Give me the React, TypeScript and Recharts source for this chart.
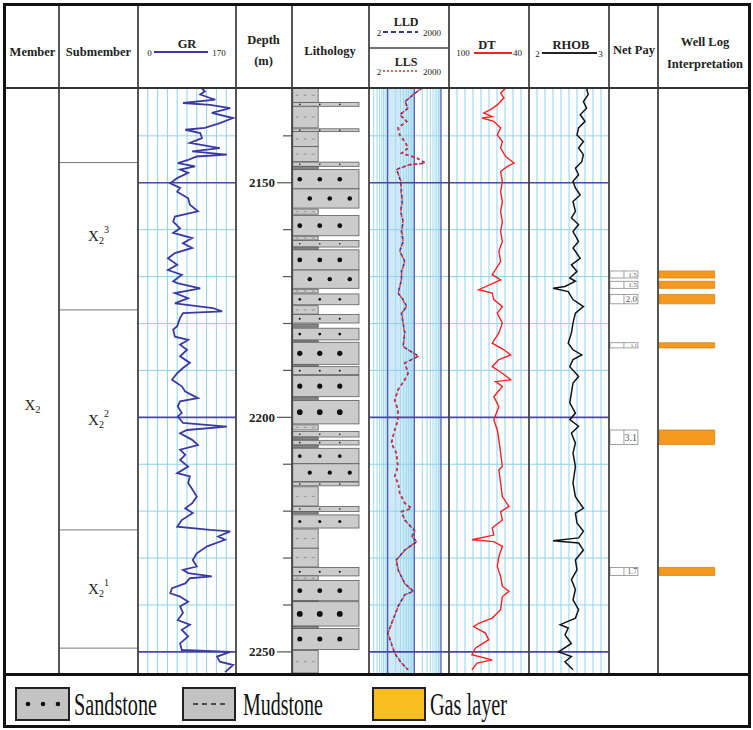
import React from "react";
import { LineChart, Line, XAxis, YAxis, ReferenceLine, ReferenceArea, Label } from "recharts";

// depth window of the log section (m)
const TOP_DEPTH = 2129.8;
const BASE_DEPTH = 2254.5;
const depthTicks = [2140, 2150, 2160, 2170, 2180, 2190, 2200, 2210, 2220, 2230, 2240, 2250];
const depthLabels = [2150, 2200, 2250];

// track grid values
const grTicks = [17, 34, 51, 68, 85, 102, 119, 136, 153];
const dtTicks = [94, 88, 82, 76, 70, 64, 58, 52, 46];
const rhobTicks = [2.1, 2.2, 2.3, 2.4, 2.5, 2.6, 2.7, 2.8, 2.9];
const resMinor = [3, 4, 5, 6, 7, 8, 9, 20, 30, 40, 50, 60, 70, 80, 90, 200, 300, 400, 500, 600, 700, 800, 900];
const resDecades = [10, 100, 1000];

// stratigraphy: boundaries (m) and submember superscripts
const stratBounds = [2145.7, 2177.1, 2224.0, 2249.2];
const submembers = ["3", "2", "1"];

// [depth, GR API]
const grLog: [number, number][] = [
  [2129.8, 110], [2130.5, 116], [2131.2, 108], [2132.3, 134], [2133.0, 78], [2133.4, 125], [2134.1, 160],
  [2135.1, 128], [2136.2, 165], [2137.3, 142], [2138.3, 116], [2138.7, 82], [2139.4, 108], [2140.5, 111],
  [2141.5, 90], [2142.6, 142], [2143.3, 94], [2144.0, 154], [2144.4, 102], [2145.1, 87], [2145.8, 69],
  [2146.5, 99], [2147.2, 73], [2147.9, 87], [2149.0, 68], [2150.1, 56], [2151.1, 73], [2151.9, 68],
  [2153.3, 87], [2154.7, 90], [2156.1, 104], [2157.2, 64], [2158.3, 61], [2159.7, 73], [2160.7, 61],
  [2161.8, 94], [2162.9, 78], [2163.9, 94], [2165.0, 64], [2166.1, 52], [2167.5, 68], [2168.6, 52],
  [2169.6, 76], [2171.0, 61], [2171.4, 68], [2172.5, 108], [2173.5, 64], [2174.6, 87], [2175.7, 64],
  [2176.7, 130], [2177.4, 146], [2177.8, 78], [2178.8, 73], [2180.6, 68], [2181.3, 61], [2182.8, 64],
  [2183.5, 87], [2184.5, 73], [2185.6, 85], [2187.0, 73], [2188.4, 90], [2189.5, 78], [2190.6, 68],
  [2192.0, 59], [2193.4, 76], [2194.5, 82], [2195.9, 104], [2196.6, 73], [2197.7, 69], [2199.1, 76],
  [2199.8, 69], [2201.2, 78], [2202.0, 154], [2202.7, 85], [2203.4, 73], [2204.8, 94], [2205.9, 104],
  [2206.9, 73], [2208.0, 82], [2209.1, 73], [2210.5, 87], [2211.9, 68], [2212.6, 90], [2214.0, 87],
  [2215.5, 95], [2216.9, 102], [2218.3, 94], [2219.4, 82], [2220.4, 95], [2221.9, 76], [2223.3, 68],
  [2224.0, 125], [2224.3, 160], [2225.4, 139], [2226.1, 151], [2227.5, 120], [2229.0, 102], [2230.4, 95],
  [2231.8, 102], [2232.5, 78], [2233.2, 87], [2233.9, 128], [2234.3, 90], [2235.4, 82], [2236.4, 59],
  [2237.5, 56], [2238.2, 73], [2239.3, 87], [2240.3, 73], [2241.7, 78], [2243.2, 69], [2244.2, 90],
  [2245.3, 76], [2246.7, 87], [2248.2, 73], [2249.6, 76], [2250.0, 160], [2251.0, 137], [2252.1, 142],
  [2252.8, 165], [2254.3, 151],
];

// [depth, LLD ohm.m, LLS ohm.m]
const resLog: [number, number, number][] = [
  [2129.8, 195, 188], [2131.2, 93, 90], [2132.7, 44, 46], [2134.1, 59, 57], [2135.5, 28.5, 29.5],
  [2136.9, 52, 50], [2138.3, 24.5, 25.5], [2139.8, 28.5, 28], [2141.2, 44, 42], [2142.6, 59, 60],
  [2143.7, 33, 34], [2144.7, 125, 118], [2145.8, 261, 250], [2146.2, 59, 62], [2147.2, 21, 22],
  [2147.9, 24.5, 24], [2149.7, 31, 32], [2151.9, 33, 32], [2154.0, 35, 36], [2156.1, 31, 31],
  [2158.3, 38, 37], [2160.4, 33, 34], [2162.5, 38, 38], [2164.6, 28.5, 29], [2166.8, 44, 43],
  [2168.9, 33, 34], [2170.7, 33, 33], [2173.5, 24.5, 25], [2174.9, 38, 37], [2176.4, 52, 50],
  [2177.8, 33, 34], [2179.9, 38, 38], [2182.0, 44, 43], [2184.9, 38, 39], [2187.0, 144, 138],
  [2188.4, 44, 45], [2190.6, 59, 57], [2192.0, 44, 44], [2194.1, 24.5, 25], [2196.3, 18.3, 18.8],
  [2198.4, 24.5, 24], [2200.5, 24.5, 25], [2202.7, 18.3, 18.5], [2205.5, 13.7, 14], [2207.6, 21, 21.5],
  [2210.5, 24.5, 24], [2212.6, 18.3, 18.6], [2214.0, 24.5, 25], [2216.2, 28.5, 28], [2218.3, 44, 45],
  [2219.4, 80, 76], [2220.1, 33, 34], [2221.9, 44, 44], [2224.3, 108, 104], [2225.4, 80, 82],
  [2226.5, 125, 120], [2228.3, 44, 45], [2230.4, 21, 21.5], [2232.5, 24.5, 25], [2235.4, 44, 43],
  [2237.1, 93, 90], [2237.8, 44, 45], [2240.3, 24.5, 25], [2243.2, 15.7, 16], [2246.0, 10.1, 10.4],
  [2248.2, 13.7, 14], [2250.3, 18.3, 18.6], [2252.4, 33, 34], [2253.8, 59, 57],
];

// [depth, DT us/ft]
const dtLog: [number, number][] = [
  [2129.8, 57.5], [2130.9, 61.3], [2131.9, 58.8], [2133.4, 63.8], [2134.4, 68.9], [2135.1, 73.9],
  [2135.9, 67.6], [2136.2, 75.2], [2136.9, 66.4], [2138.3, 61.3], [2139.8, 63.8], [2141.2, 60.0],
  [2142.6, 61.3], [2144.4, 57.5], [2145.8, 51.2], [2146.5, 56.2], [2147.6, 61.3], [2149.7, 60.0],
  [2151.9, 61.3], [2154.0, 60.0], [2156.1, 61.3], [2158.3, 60.0], [2160.4, 61.3], [2162.5, 60.0],
  [2164.6, 62.6], [2166.8, 61.3], [2169.6, 67.6], [2170.7, 61.3], [2172.8, 77.7], [2173.5, 67.6],
  [2174.9, 66.4], [2176.4, 60.0], [2177.8, 63.8], [2179.9, 60.0], [2182.0, 62.6], [2184.2, 67.6],
  [2185.6, 58.8], [2186.7, 53.7], [2187.7, 62.6], [2189.2, 67.6], [2190.6, 60.0], [2192.0, 53.7],
  [2192.4, 65.1], [2193.4, 60.0], [2195.6, 66.4], [2197.7, 62.6], [2200.5, 66.4], [2202.7, 63.8],
  [2204.8, 62.6], [2207.6, 61.3], [2210.5, 60.0], [2211.2, 62.6], [2214.0, 61.3], [2216.9, 60.0],
  [2219.0, 55.0], [2220.1, 61.3], [2221.9, 60.0], [2223.6, 67.6], [2225.1, 66.4], [2226.1, 82.8],
  [2226.5, 66.4], [2227.5, 60.0], [2229.7, 62.6], [2231.8, 63.8], [2233.9, 61.3], [2236.0, 60.0],
  [2237.1, 55.0], [2238.2, 60.0], [2241.0, 61.3], [2242.8, 67.6], [2243.9, 77.7], [2244.6, 81.5],
  [2246.0, 72.7], [2247.4, 70.2], [2249.2, 80.3], [2250.6, 82.8], [2251.7, 67.6], [2252.4, 79.0],
  [2253.8, 82.8],
];

// [depth, RHOB g/cm3]
const rhobLog: [number, number][] = [
  [2129.8, 2.72], [2131.2, 2.74], [2132.7, 2.68], [2134.1, 2.72], [2135.5, 2.64], [2136.9, 2.7],
  [2138.3, 2.62], [2139.8, 2.6], [2141.2, 2.68], [2142.6, 2.62], [2144.0, 2.68], [2145.5, 2.66],
  [2146.9, 2.58], [2148.3, 2.62], [2149.7, 2.55], [2151.1, 2.58], [2152.6, 2.64], [2154.0, 2.55],
  [2156.1, 2.58], [2157.5, 2.53], [2158.9, 2.62], [2160.4, 2.55], [2162.5, 2.62], [2163.9, 2.55],
  [2166.1, 2.64], [2167.5, 2.53], [2168.9, 2.6], [2170.3, 2.51], [2171.0, 2.58], [2172.1, 2.45],
  [2172.5, 2.3], [2173.2, 2.49], [2174.9, 2.55], [2176.4, 2.68], [2177.8, 2.58], [2179.9, 2.55],
  [2182.0, 2.53], [2184.2, 2.49], [2185.6, 2.55], [2186.7, 2.66], [2187.7, 2.55], [2189.2, 2.51],
  [2191.3, 2.62], [2192.7, 2.55], [2194.8, 2.53], [2196.9, 2.51], [2199.1, 2.58], [2200.5, 2.51],
  [2201.9, 2.62], [2203.4, 2.53], [2205.5, 2.58], [2207.6, 2.55], [2210.5, 2.58], [2214.0, 2.55],
  [2216.9, 2.58], [2219.4, 2.68], [2220.4, 2.58], [2222.5, 2.6], [2224.3, 2.68], [2225.7, 2.62],
  [2226.3, 2.3], [2226.8, 2.62], [2228.3, 2.68], [2230.4, 2.58], [2232.5, 2.6], [2234.6, 2.53],
  [2236.7, 2.58], [2238.9, 2.55], [2241.0, 2.62], [2242.8, 2.58], [2244.2, 2.39], [2244.9, 2.49],
  [2246.4, 2.45], [2248.2, 2.53], [2250.0, 2.37], [2251.0, 2.53], [2252.1, 2.45], [2253.8, 2.55],
];

// [top, base, rock]
const lithology: [number, number, "sand" | "mud"][] = [
  [2129.8, 2132.9, "mud"], [2132.9, 2133.7, "sand"], [2133.7, 2138.3, "mud"], [2138.5, 2139.1, "sand"],
  [2139.1, 2142.3, "mud"], [2142.3, 2145.5, "mud"], [2145.6, 2146.5, "sand"], [2146.5, 2147.2, "mud"],
  [2147.2, 2151.3, "sand"], [2151.3, 2155.4, "sand"], [2155.6, 2156.7, "mud"], [2157.0, 2161.3, "sand"],
  [2161.4, 2162.2, "mud"], [2162.3, 2163.7, "sand"], [2163.7, 2164.3, "mud"], [2164.3, 2168.6, "sand"],
  [2168.6, 2172.5, "sand"], [2172.7, 2173.5, "mud"], [2173.7, 2176.0, "sand"], [2176.2, 2178.0, "mud"],
  [2178.1, 2179.9, "sand"], [2180.1, 2180.8, "mud"], [2181.0, 2183.5, "sand"], [2183.6, 2184.0, "mud"],
  [2184.0, 2188.7, "sand"], [2188.8, 2189.2, "mud"], [2189.2, 2190.9, "sand"], [2191.1, 2195.6, "sand"],
  [2195.7, 2196.4, "mud"], [2196.4, 2201.4, "sand"], [2201.6, 2202.7, "mud"], [2203.0, 2204.2, "sand"],
  [2204.2, 2204.8, "mud"], [2204.9, 2205.9, "sand"], [2205.9, 2206.4, "mud"], [2206.6, 2209.9, "sand"],
  [2209.9, 2213.7, "sand"], [2213.8, 2214.6, "sand"], [2214.8, 2218.9, "mud"], [2219.0, 2220.1, "sand"],
  [2220.1, 2220.6, "mud"], [2220.8, 2223.6, "sand"], [2223.8, 2227.9, "mud"], [2227.9, 2231.9, "mud"],
  [2232.0, 2233.8, "sand"], [2233.8, 2234.7, "mud"], [2234.8, 2239.1, "sand"], [2239.1, 2239.3, "mud"],
  [2239.3, 2244.5, "sand"], [2244.5, 2245.0, "mud"], [2245.0, 2249.5, "sand"], [2249.7, 2254.5, "mud"],
];

// gas layers: [top depth, net pay thickness]
const gasLayers: [number, number][] = [
  [2168.8, 1.5], [2171.0, 1.5], [2173.8, 2.0], [2184.1, 1.1], [2202.7, 3.1], [2232.0, 1.7],
];

const SERIF = '"Liberation Serif", "Times New Roman", serif';
const GRID = "#8ed3ec";
const MAJOR = "#4848a4";
const HEAD_BOTTOM = 88;
const BODY_BOTTOM = 673;
const BODY_H = BODY_BOTTOM - HEAD_BOTTOM;
const COLS = [6, 59, 138, 236, 292, 369, 449, 529, 609, 658, 748];

const grRows = grLog.map(([depth, gr]) => ({ depth, gr }));
const resRows = resLog.map(([depth, lld, lls]) => ({ depth, lld, lls }));
const dtRows = dtLog.map(([depth, dt]) => ({ depth, dt }));
const rhobRows = rhobLog.map(([depth, rhob]) => ({ depth, rhob }));

function track(
  key: string,
  left: number,
  right: number,
  domain: [number, number],
  children: React.ReactNode,
  opts: { scale?: "linear" | "log"; reversed?: boolean } = {}
) {
  const w = right - left;
  return (
    <div key={key} style={{ position: "absolute", left, top: HEAD_BOTTOM, width: w, height: BODY_H }}>
      <LineChart width={w} height={BODY_H} layout="vertical" margin={{ top: 0, right: 0, bottom: 0, left: 0 }}>
        <XAxis type="number" domain={domain} scale={opts.scale ?? "linear"} reversed={opts.reversed} hide allowDataOverflow />
        <YAxis type="number" dataKey="depth" domain={[TOP_DEPTH, BASE_DEPTH]} hide allowDataOverflow />
        {children}
      </LineChart>
    </div>
  );
}

const depthGrid = (p: string) =>
  depthTicks
    .filter((d) => !depthLabels.includes(d))
    .map((d) => <ReferenceLine key={`${p}h${d}`} y={d} stroke={GRID} strokeWidth={1} />);
const depthMajor = (p: string) =>
  depthLabels.map((d) => <ReferenceLine key={`${p}m${d}`} y={d} stroke={MAJOR} strokeWidth={1.6} />);
const valueGrid = (p: string, vals: number[], color = GRID, width = 1) =>
  vals.map((v) => <ReferenceLine key={`${p}v${v}`} x={v} stroke={color} strokeWidth={width} />);

const DepthTick = (props: any) => {
  const { x, y, payload } = props;
  const major = depthLabels.includes(payload.value);
  return (
    <g>
      <line x1={x - (major ? 15 : 9)} x2={x} y1={y} y2={y} stroke="#555" strokeWidth={1.2} />
      {major && (
        <text x={x - 17} y={y} textAnchor="end" dominantBaseline="central" fontFamily={SERIF} fontWeight="bold" fontSize={13} fill="#222">
          {payload.value}
        </text>
      )}
    </g>
  );
};

const lithShape = (rock: "sand" | "mud", shifted: boolean) => (p: any) => {
  const { x, y, width, height } = p;
  const cy = y + height / 2;
  if (rock === "mud") {
    const thin = height < 3.5;
    return (
      <g>
        <rect x={x} y={y} width={width} height={height} fill={thin ? "#858585" : "#cbcbcb"} stroke="#5c5c5c" strokeWidth={0.8} />
        {!thin &&
          [0, 1, 2].map((i) => (
            <line key={i} x1={x + 3 + i * 8} x2={x + 6 + i * 8} y1={cy} y2={cy} stroke="#8a8a8a" strokeWidth={0.9} />
          ))}
      </g>
    );
  }
  const r = Math.min(3, Math.max(0.8, height * 0.12));
  return (
    <g>
      <rect x={x} y={y} width={width} height={height} fill="#cbcbcb" stroke="#5c5c5c" strokeWidth={0.8} />
      {[0, 1, 2].map((i) => (
        <circle key={i} cx={x + 7 + (shifted ? 10 : 0) + i * 20} cy={cy} r={r} fill="#111" />
      ))}
    </g>
  );
};

const payShape = (thick: number) => (p: any) => {
  const { x, y, width, height } = p;
  const fs = Math.max(5, Math.min(10, height * 0.95));
  return (
    <g>
      <rect x={x} y={y} width={width} height={height} fill="#fff" stroke="#8a8a8a" strokeWidth={0.8} />
      <line x1={x + width * 0.5} x2={x + width * 0.5} y1={y} y2={y + height} stroke="#8a8a8a" strokeWidth={0.8} />
      <text x={x + width - 1} y={y + height / 2} textAnchor="end" dominantBaseline="central" fontFamily={SERIF} fontSize={fs} fill="#555">
        {thick.toFixed(1)}
      </text>
    </g>
  );
};

const stratLabel = (sup?: string) => (props: any) => {
  const vb = props.viewBox;
  const cx = vb.x + vb.width / 2;
  const cy = vb.y + vb.height / 2;
  return (
    <text x={cx} y={cy} textAnchor="middle" dominantBaseline="central" fontFamily={SERIF} fontSize={15} fill="#222">
      X
      <tspan fontSize={10} dy={4}>2</tspan>
      {sup && <tspan fontSize={10} dy={-11}>{sup}</tspan>}
    </text>
  );
};

export default function App() {
  const lith = lithology.map(([top, base, rock], i) => {
    const prev = lithology[i - 1];
    const shifted = rock === "sand" && !!prev && prev[2] === "sand" && Math.abs(prev[1] - top) < 0.05;
    return { top, base, rock, shifted };
  });

  const t = (x: number, y: number, s: string, size = 12.5, bold = true) => (
    <text x={x} y={y} textAnchor="middle" dominantBaseline="central" fontFamily={SERIF} fontSize={size} fontWeight={bold ? "bold" : "normal"} fill="#222">
      {s}
    </text>
  );

  return (
    <div style={{ position: "absolute", left: 0, top: 0, width: 753, height: 730, background: "#fff", overflow: "hidden" }}>
      {track("member", COLS[0], COLS[1], [0, 1], [
        <ReferenceArea key="x2" x1={0} x2={1} y1={stratBounds[0]} y2={stratBounds[3]} fill="none" stroke="none" label={<Label content={stratLabel()} />} />,
      ])}
      {track("sub", COLS[1], COLS[2], [0, 1], [
        ...stratBounds.map((d) => <ReferenceLine key={`b${d}`} y={d} stroke="#777" strokeWidth={1} />),
        ...submembers.map((s, i) => (
          <ReferenceArea key={`s${s}`} x1={0} x2={1} y1={stratBounds[i]} y2={stratBounds[i + 1]} fill="none" stroke="none" label={<Label content={stratLabel(s)} />} />
        )),
      ])}
      {track("gr", COLS[2], COLS[3], [0, 170], [
        ...valueGrid("gr", grTicks),
        ...depthGrid("gr"),
        ...depthMajor("gr"),
        <Line key="grl" data={grRows} dataKey="gr" type="linear" stroke="#3a3aa6" strokeWidth={1.8} dot={false} isAnimationActive={false} />,
      ])}
      <div style={{ position: "absolute", left: COLS[3], top: HEAD_BOTTOM, width: 60, height: BODY_H }}>
        <LineChart width={60} height={BODY_H} layout="vertical" margin={{ top: 0, right: 0, bottom: 0, left: 0 }}>
          <XAxis type="number" domain={[0, 1]} hide />
          <YAxis
            type="number"
            dataKey="depth"
            domain={[TOP_DEPTH, BASE_DEPTH]}
            allowDataOverflow
            width={56}
            ticks={depthTicks}
            interval={0}
            tick={<DepthTick />}
            tickLine={false}
            axisLine={false}
            tickSize={0}
            tickMargin={0}
          />
        </LineChart>
      </div>
      {track("lith", COLS[4], COLS[5], [0, 1], lith.map((l, i) => (
        <ReferenceArea key={`l${i}`} x1={0.01} x2={l.rock === "sand" ? 0.87 : 0.34} y1={l.top} y2={l.base} shape={lithShape(l.rock, l.shifted)} />
      )))}
      {track("res", COLS[5], COLS[6], [2, 2000], [
        <ReferenceArea key="band" x1={10} x2={100} fill="#cfeaf6" fillOpacity={1} stroke="none" />,
        ...valueGrid("rs", resMinor, "#9fd9ef", 1),
        ...depthGrid("rs"),
        ...valueGrid("rd", resDecades, "#5a5ab4", 1.3),
        ...depthMajor("rs"),
        <Line key="lld" data={resRows} dataKey="lld" type="linear" stroke="#3535a8" strokeWidth={1.6} strokeDasharray="3 3" dot={false} isAnimationActive={false} />,
        <Line key="lls" data={resRows} dataKey="lls" type="linear" stroke="#ff2a2a" strokeWidth={1.4} strokeDasharray="3 3" strokeDashoffset={3} dot={false} isAnimationActive={false} />,
      ], { scale: "log" })}
      {track("dt", COLS[6], COLS[7], [40, 100], [
        ...valueGrid("dt", dtTicks),
        ...depthGrid("dt"),
        ...depthMajor("dt"),
        <Line key="dtl" data={dtRows} dataKey="dt" type="linear" stroke="#ff2020" strokeWidth={1.4} dot={false} isAnimationActive={false} />,
      ], { reversed: true })}
      {track("rhob", COLS[7], COLS[8], [2, 3], [
        ...valueGrid("rh", rhobTicks),
        ...depthGrid("rh"),
        ...depthMajor("rh"),
        <Line key="rhl" data={rhobRows} dataKey="rhob" type="linear" stroke="#151515" strokeWidth={1.5} dot={false} isAnimationActive={false} />,
      ])}
      {track("pay", COLS[8], COLS[9], [0, 1], gasLayers.map(([top, h], i) => (
        <ReferenceArea key={`p${i}`} x1={0.02} x2={0.59} y1={top} y2={top + h} shape={payShape(h)} />
      )))}
      {track("interp", COLS[9], COLS[10], [0, 1], gasLayers.map(([top, h], i) => (
        <ReferenceArea key={`g${i}`} x1={0.01} x2={0.63} y1={top} y2={top + h} fill="#f5991f" fillOpacity={1} stroke="#d4841a" strokeWidth={0.8} />
      )))}

      <svg width={753} height={730} style={{ position: "absolute", left: 0, top: 0, pointerEvents: "none" }}>
        {COLS.slice(1, -1).map((x) => (
          <line key={x} x1={x} x2={x} y1={6} y2={BODY_BOTTOM} stroke="#444" strokeWidth={1.8} />
        ))}
        <line x1={6} x2={748} y1={HEAD_BOTTOM} y2={HEAD_BOTTOM} stroke="#333" strokeWidth={2} />
        <line x1={COLS[5]} x2={COLS[6]} y1={48} y2={48} stroke="#444" strokeWidth={1.5} />
        <line x1={4} x2={750} y1={674.5} y2={674.5} stroke="#111" strokeWidth={3} />
        <rect x={4.5} y={4.5} width={745} height={722} fill="none" stroke="#111" strokeWidth={3} />

        {t(32.5, 52, "Member")}
        {t(98.5, 52, "Submember")}
        {t(187, 44, "GR")}
        <line x1={154} x2={208} y1={52} y2={52} stroke="#3a3aa6" strokeWidth={2} />
        {t(149.5, 53, "0", 9, false)}
        {t(219, 53, "170", 9, false)}
        {t(263.5, 40, "Depth")}
        {t(263.5, 61, "(m)")}
        {t(330, 51, "Lithology")}
        {t(406, 22, "LLD", 12)}
        <line x1={383} x2={418} y1={32} y2={32} stroke="#3535a8" strokeWidth={2} strokeDasharray="5 3" />
        {t(379, 33, "2", 9, false)}
        {t(432, 33, "2000", 9, false)}
        {t(406, 62, "LLS", 12)}
        <line x1={383} x2={418} y1={71} y2={71} stroke="#ff2a2a" strokeWidth={1.5} strokeDasharray="2 2" />
        {t(379, 72, "2", 9, false)}
        {t(432, 72, "2000", 9, false)}
        {t(487, 45, "DT")}
        <line x1={474} x2={512} y1={53} y2={53} stroke="#ff2020" strokeWidth={2} />
        {t(463, 53, "100", 9, false)}
        {t(517.5, 53, "40", 9, false)}
        {t(571, 45, "RHOB")}
        <line x1={542} x2={597} y1={53} y2={53} stroke="#222" strokeWidth={2} />
        {t(537.5, 54, "2", 9, false)}
        {t(600.5, 54, "3", 9, false)}
        {t(634, 50, "Net Pay")}
        {t(705, 42, "Well Log")}
        {t(705, 64, "Interpretation")}

        <rect x={16} y={688} width={53} height={32} fill="#c3c3c3" stroke="#222" strokeWidth={2} />
        {[28, 43, 58].map((cx) => (
          <circle key={cx} cx={cx} cy={704} r={2.3} fill="#111" />
        ))}
        <text x={74} y={715} fontFamily={SERIF} fontSize={32} textLength={83} lengthAdjust="spacingAndGlyphs" fill="#111">
          Sandstone
        </text>
        <rect x={183} y={688} width={52} height={32} fill="#c3c3c3" stroke="#222" strokeWidth={2} />
        {[193, 202, 211, 220].map((x) => (
          <line key={x} x1={x} x2={x + 5} y1={704} y2={704} stroke="#222" strokeWidth={1.5} />
        ))}
        <text x={243} y={715} fontFamily={SERIF} fontSize={32} textLength={80} lengthAdjust="spacingAndGlyphs" fill="#111">
          Mudstone
        </text>
        <rect x={373} y={688} width={52} height={32} fill="#f8bd1e" stroke="#222" strokeWidth={2} />
        <text x={430} y={715} fontFamily={SERIF} fontSize={32} textLength={77} lengthAdjust="spacingAndGlyphs" fill="#111">
          Gas layer
        </text>
      </svg>
    </div>
  );
}
